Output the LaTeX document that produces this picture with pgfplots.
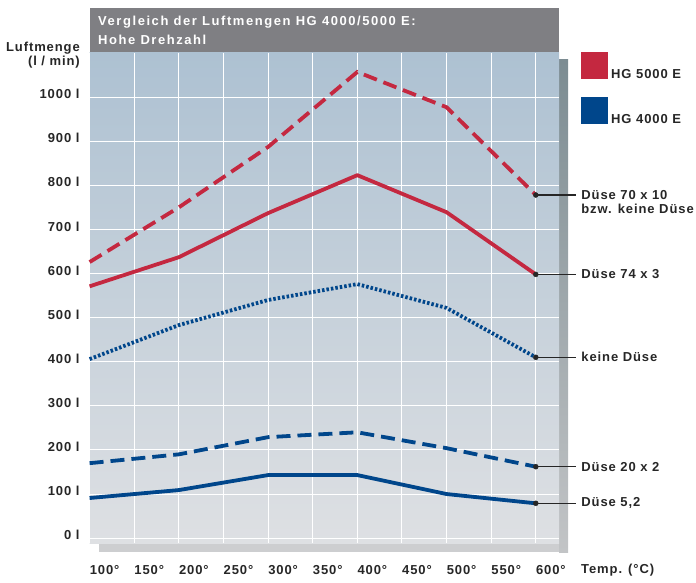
\documentclass[border=0pt]{standalone}
\usepackage{fontspec}
\setmainfont[LetterSpace=7]{Liberation Sans}
\newfontfamily\titlefont[LetterSpace=12]{Liberation Sans}
\usepackage{pgfplots}
\pgfplotsset{compat=1.18}

\definecolor{redhg}{HTML}{C42840}
\definecolor{bluehg}{HTML}{00468B}
\definecolor{titlegray}{HTML}{7F7F83}
\definecolor{bgtop}{HTML}{ADC1D2}
\definecolor{bgbot}{HTML}{DEE0E3}
\definecolor{shadetop}{HTML}{7C8C92}
\definecolor{shadebot}{HTML}{C2C4C6}
\definecolor{shadebottom}{HTML}{CDCED0}
\definecolor{labelink}{HTML}{262626}

\begin{document}
\begin{tikzpicture}[font=\fontsize{13}{14.5}\selectfont\bfseries, text=labelink]
\useasboundingbox (0pt,0pt) rectangle (696pt,-583pt);

% shadow strips
\fill[shadebottom] (99pt,-552pt) rectangle (568pt,-543pt);
\shade[top color=shadetop, bottom color=shadebot] (559pt,-60pt) rectangle (568pt,-552pt);

% title bar
\fill[titlegray] (89.6pt,-8pt) rectangle (559pt,-53pt);
\node[anchor=west, text=white, inner sep=0pt, font=\fontsize{13}{14.5}\titlefont\bfseries] at (98pt,-22pt) {Vergleich der Luftmengen HG 4000/5000 E:};
\node[anchor=west, text=white, inner sep=0pt, font=\fontsize{13}{14.5}\titlefont\bfseries] at (98pt,-40pt) {Hohe Drehzahl};

\begin{axis}[
  at={(89.6pt,-543pt)}, anchor=south west,
  scale only axis, width=469.4pt, height=490pt,
  xmin=100, xmax=626, ymin=-11, ymax=1100,
  axis line style={draw=none},
  axis background/.style={top color=bgtop, bottom color=bgbot},
  major tick length=0pt,
  xtick={100,150,...,600},
  xticklabels={100°,150°,200°,250°,300°,350°,400°,450°,500°,550°,600°},
  ytick={0,100,...,1000},
  yticklabels={0 l,100 l,200 l,300 l,400 l,500 l,600 l,700 l,800 l,900 l,1000 l},
  xticklabel style={anchor=north west, inner sep=0pt, yshift=-22pt},
  yticklabel style={anchor=east, inner sep=0pt, xshift=-10pt, yshift=3pt},
  grid=major,
  major grid style={white, line width=1pt},
  clip=false,
]
% HG 5000 E, Duese 70 x 10 bzw. keine Duese
\addplot[redhg, line width=3.8pt, dash pattern=on 14pt off 7pt] coordinates {
  (100,626) (200,750) (300,887) (400,1057) (500,977) (600,778)};
% HG 5000 E, Duese 74 x 3
\addplot[redhg, line width=3.8pt, line join=round] coordinates {
  (100,571) (200,637) (300,737) (400,823) (500,739) (600,598)};
% HG 4000 E, keine Duese
\addplot[bluehg, line width=3.8pt, dash pattern=on 2.5pt off 2pt] coordinates {
  (100,406) (200,483) (300,540) (400,576) (500,522) (600,410)};
% HG 4000 E, Duese 20 x 2
\addplot[bluehg, line width=3.8pt, dash pattern=on 14pt off 7pt] coordinates {
  (100,170) (200,190) (300,229) (400,240) (500,204) (600,162)};
% HG 4000 E, Duese 5,2
\addplot[bluehg, line width=3.8pt, line join=round] coordinates {
  (100,91) (200,109) (300,143) (400,143) (500,100) (600,79)};

\addplot[only marks, mark=*, mark size=2.5pt, labelink] coordinates {
  (600,778) (600,598) (600,410) (600,162) (600,79)};

\draw[labelink, line width=1.2pt] (axis cs:600,778) -- ++(40pt,0pt)
  node[anchor=west, align=left, inner sep=0pt, xshift=5pt, yshift=-7pt] {Düse 70 x 10\\bzw. keine Düse};
\draw[labelink, line width=1.2pt] (axis cs:600,598) -- ++(40pt,0pt)
  node[anchor=west, inner sep=0pt, xshift=5pt] {Düse 74 x 3};
\draw[labelink, line width=1.2pt] (axis cs:600,410) -- ++(40pt,0pt)
  node[anchor=west, inner sep=0pt, xshift=5pt] {keine Düse};
\draw[labelink, line width=1.2pt] (axis cs:600,162) -- ++(40pt,0pt)
  node[anchor=west, inner sep=0pt, xshift=5pt] {Düse 20 x 2};
\draw[labelink, line width=1.2pt] (axis cs:600,79) -- ++(40pt,0pt)
  node[anchor=west, inner sep=0pt, xshift=5pt] {Düse 5,2};
\end{axis}

% axis titles
\node[anchor=east, align=right, inner sep=0pt] at (80pt,-55pt) {Luftmenge\\(l / min)};
\node[anchor=west, inner sep=0pt] at (581pt,-570pt) {Temp. (°C)};

% legend
\fill[redhg] (581pt,-52pt) rectangle (608pt,-79pt);
\node[anchor=west, inner sep=0pt] at (611pt,-74pt) {HG 5000 E};
\fill[bluehg] (581pt,-97pt) rectangle (608pt,-124pt);
\node[anchor=west, inner sep=0pt] at (611pt,-119pt) {HG 4000 E};
\end{tikzpicture}
\end{document}
